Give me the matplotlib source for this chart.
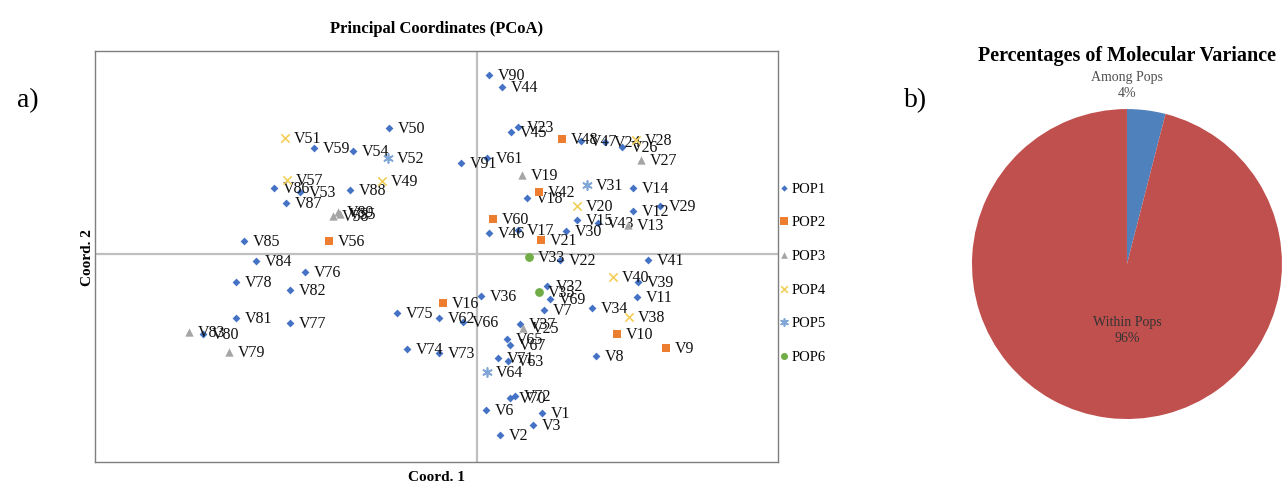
import matplotlib
matplotlib.use("Agg")
from matplotlib import pyplot as plt

plt.rcParams['font.family'] = ['Liberation Serif', 'DejaVu Serif']

# PCoA coordinates (Coord. 1, Coord. 2) per population
pop1_names = ["V90", "V44", "V45", "V23", "V47", "V24", "V26", "V50", "V59", "V54", "V91", "V61",
              "V86", "V53", "V87", "V88", "V14", "V18", "V12", "V29", "V15", "V43", "V30", "V46",
              "V17", "V85", "V22", "V41", "V84", "V76", "V78", "V82", "V39", "V11", "V36", "V32",
              "V69", "V34", "V7", "V75", "V62", "V66", "V81", "V77", "V80", "V37", "V65", "V67",
              "V74", "V73", "V8", "V71", "V63", "V70", "V72", "V6", "V1", "V3", "V2"]
pop1_x = [0.12, 0.25, 0.34, 0.41, 1.04, 1.28, 1.45, -0.88, -1.63, -1.24, -0.16, 0.10,
          -2.03, -1.77, -1.91, -1.27, 1.56, 0.50, 1.56, 1.83, 1.00, 1.21, 0.89, 0.12,
          0.41, -2.33, 0.83, 1.71, -2.21, -1.72, -2.41, -1.87, 1.61, 1.60, 0.04, 0.70,
          0.73, 1.15, 0.67, -0.80, -0.38, -0.14, -2.41, -1.87, -2.74, 0.43, 0.30, 0.33,
          -0.70, -0.38, 1.19, 0.21, 0.31, 0.33, 0.38, 0.09, 0.65, 0.56, 0.23]
pop1_y = [1.79, 1.67, 1.22, 1.27, 1.13, 1.12, 1.07, 1.26, 1.06, 1.03, 0.91, 0.96,
          0.66, 0.62, 0.51, 0.64, 0.66, 0.56, 0.43, 0.48, 0.34, 0.31, 0.23, 0.21,
          0.24, 0.13, -0.06, -0.06, -0.07, -0.18, -0.28, -0.36, -0.28, -0.43, -0.42, -0.32,
          -0.45, -0.54, -0.56, -0.59, -0.64, -0.68, -0.64, -0.69, -0.80, -0.70, -0.85, -0.91,
          -0.95, -0.99, -1.02, -1.04, -1.07, -1.44, -1.42, -1.56, -1.59, -1.71, -1.81]

pop2_names = ["V48", "V42", "V60", "V21", "V56", "V16", "V10", "V9"]
pop2_x = [0.85, 0.62, 0.16, 0.64, -1.48, -0.34, 1.40, 1.89]
pop2_y = [1.15, 0.62, 0.35, 0.14, 0.13, -0.49, -0.80, -0.94]

pop3_names = ["V27", "V19", "V58", "V89", "V55", "V13", "V83", "V79", "V25"]
pop3_x = [1.64, 0.45, -1.44, -1.39, -1.37, 1.51, -2.88, -2.48, 0.46]
pop3_y = [0.94, 0.79, 0.38, 0.42, 0.40, 0.29, -0.78, -0.98, -0.74]

pop4_names = ["V51", "V28", "V57", "V49", "V20", "V40", "V38"]
pop4_x = [-1.92, 1.59, -1.90, -0.95, 1.00, 1.36, 1.52]
pop4_y = [1.16, 1.14, 0.74, 0.73, 0.48, -0.23, -0.63]

pop5_names = ["V52", "V31", "V64"]
pop5_x = [-0.89, 1.10, 0.10]
pop5_y = [0.96, 0.69, -1.18]

pop6_names = ["V33", "V35"]
pop6_x = [0.52, 0.62]
pop6_y = [-0.03, -0.38]

# AMOVA
amova_labels = ["Among Pops", "Within Pops"]
amova_pct = [4, 96]

pops = [
    ("POP1", pop1_names, pop1_x, pop1_y, "D", "#4472C4", 16),
    ("POP2", pop2_names, pop2_x, pop2_y, "s", "#ED7D31", 40),
    ("POP3", pop3_names, pop3_x, pop3_y, "^", "#A5A5A5", 36),
    ("POP4", pop4_names, pop4_x, pop4_y, "x", "#F2CF5B", 36),
    ("POP5", pop5_names, pop5_x, pop5_y, (6, 2, 0), "#7FA6D6", 44),
    ("POP6", pop6_names, pop6_x, pop6_y, "o", "#70AD47", 40),
]

fig = plt.figure(figsize=(12.84, 4.89), dpi=100)
ax = fig.add_axes([0.074, 0.0532, 0.532, 0.8405])

ax.axhline(0, color="#BFBFBF", lw=1.6, zorder=0)
ax.axvline(0, color="#BFBFBF", lw=1.6, zorder=0)

for name, labels, xs, ys, marker, color, size in pops:
    lw = 1.2 if marker in ("x", (6, 2, 0)) else 0
    ax.scatter(xs, ys, marker=marker, s=size, color=color, linewidths=lw, label=name, zorder=3)
    for lab, x, y in zip(labels, xs, ys):
        ax.annotate(lab, (x, y), xytext=(6, 0), textcoords="offset points",
                    va="center", ha="left", fontsize=11.5, color="#111111")

ax.set_xlim(-3.82, 3.01)
ax.set_ylim(-2.08, 2.03)
ax.set_xticks([])
ax.set_yticks([])
for sp in ax.spines.values():
    sp.set_color("#7F7F7F")
    sp.set_linewidth(1.0)

ax.set_xlabel("Coord. 1", fontsize=11, fontweight="bold", labelpad=6)
ax.set_ylabel("Coord. 2", fontsize=11, fontweight="bold", labelpad=1)
ax.set_title("Principal Coordinates (PCoA)", fontsize=12, fontweight="bold", pad=14)

leg = ax.legend(loc="center left", bbox_to_anchor=(0.99, 0.462), frameon=False,
                fontsize=10.5, handletextpad=0.0, labelspacing=1.4, markerscale=0.8,
                handlelength=1.0, borderaxespad=0.0)

fig.text(0.022, 0.795, "a)", fontsize=20, va="center", ha="center")
fig.text(0.713, 0.795, "b)", fontsize=20, va="center", ha="center")

# pie
pax = fig.add_axes([0.757, 0.141, 0.2414, 0.634])
wedges, texts = pax.pie(amova_pct, colors=["#4F81BD", "#C0504D"], startangle=90,
                        counterclock=False, wedgeprops=dict(linewidth=0))
pax.text(0.0, 1.16, "%s\n%d%%" % (amova_labels[0], amova_pct[0]), ha="center", va="center",
         fontsize=10, color="#4F4F4F", linespacing=1.25)
pax.text(0.0, -0.42, "%s\n%d%%" % (amova_labels[1], amova_pct[1]), ha="center", va="center",
         fontsize=10, color="#333333", linespacing=1.3)
fig.text(0.878, 0.885, "Percentages of Molecular Variance", fontsize=14.5, fontweight="bold",
         ha="center", va="center")
pax.set_xlim(-1.0, 1.0)
pax.set_ylim(-1.0, 1.0)

fig.savefig("out.png", dpi=100)
